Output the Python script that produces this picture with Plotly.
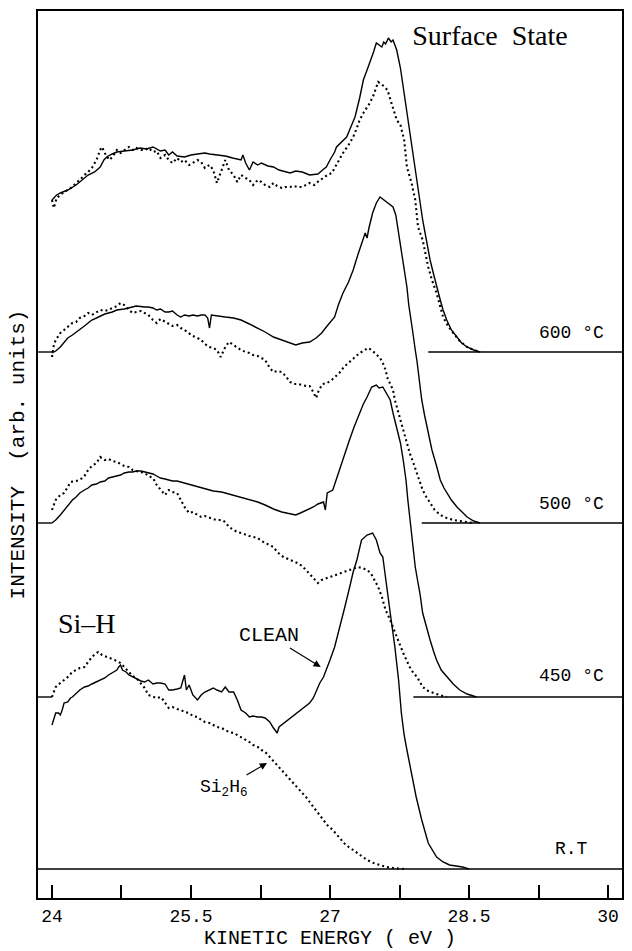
import plotly.graph_objects as go

# ---------------- data (kinetic energy in eV, intensity in arb. units) ----------------
offsets = {"R.T": 0, "450": 172, "500": 346, "600": 517}

# 600 °C
x_600_clean = [24.00,24.05,24.09,24.17,24.26,24.33,24.39,24.46,24.52,24.56,24.59,24.65,24.70,24.78,24.87,24.95,25.02,25.09,25.17,25.22,25.26,25.30,25.35,25.43,25.50,25.57,25.65,25.70,25.78,25.87,25.95,26.04,26.06,26.09,26.13,26.17,26.22,26.26,26.33,26.39,26.45,26.52,26.57,26.63,26.70,26.78,26.87,26.92,26.96,27.00,27.02,27.05,27.07,27.12,27.18,27.22,27.27,27.32,27.36,27.40,27.43,27.47,27.50,27.53,27.56,27.58,27.60,27.63,27.66,27.68,27.72,27.76,27.79,27.83,27.86,27.90,27.94,27.97,28.00,28.04,28.08,28.12,28.15,28.19,28.22,28.26,28.31,28.37,28.42,28.48,28.55,28.62]
i_600_clean = [152,157,159,162,167,172,177,180,185,192,195,198,200,201,202,204,203,205,201,202,197,200,196,195,197,198,199,198,197,196,194,192,197,189,182,190,187,189,186,185,182,180,179,181,180,177,178,182,185,192,195,200,205,210,215,224,235,254,272,282,289,300,309,307,305,310,308,314,310,312,302,284,265,244,222,197,172,152,132,112,92,77,65,52,42,32,22,15,9,5,2,0]

x_600_si2h6 = [24.00,24.02,24.05,24.09,24.13,24.17,24.22,24.26,24.30,24.35,24.39,24.43,24.48,24.52,24.54,24.58,24.62,24.65,24.70,24.74,24.78,24.83,24.87,24.91,24.96,25.00,25.04,25.09,25.13,25.17,25.22,25.26,25.30,25.35,25.39,25.43,25.48,25.52,25.57,25.61,25.65,25.70,25.74,25.78,25.82,25.87,25.91,25.96,26.00,26.04,26.09,26.13,26.17,26.22,26.26,26.30,26.35,26.39,26.43,26.48,26.52,26.57,26.61,26.65,26.70,26.78,26.83,26.89,26.93,26.97,27.02,27.05,27.09,27.14,27.20,27.25,27.29,27.32,27.36,27.40,27.43,27.47,27.50,27.52,27.55,27.58,27.62,27.66,27.70,27.72,27.76,27.80,27.83,27.88,27.92,27.95,28.00,28.06,28.10,28.15,28.22,28.28,28.33,28.40,28.48,28.55,28.62]
i_600_si2h6 = [152,144,154,157,160,162,165,169,172,177,180,184,192,202,205,197,192,195,202,199,202,205,202,204,202,202,204,200,201,194,197,192,189,194,190,192,187,189,192,190,184,187,182,169,180,192,182,177,170,177,174,172,167,172,170,167,165,169,166,164,165,165,166,165,165,169,167,172,174,177,179,184,192,199,207,215,224,232,239,244,249,257,264,270,268,266,262,250,237,232,227,212,185,169,152,125,112,85,72,59,35,25,19,11,5,2,0]

# 500 °C
x_500_clean = [24.00,24.04,24.09,24.13,24.17,24.22,24.30,24.35,24.39,24.43,24.48,24.52,24.57,24.65,24.70,24.78,24.83,24.91,25.00,25.04,25.09,25.13,25.17,25.22,25.26,25.30,25.35,25.39,25.43,25.48,25.52,25.57,25.61,25.65,25.68,25.70,25.72,25.78,25.87,25.96,26.04,26.13,26.22,26.30,26.39,26.48,26.57,26.63,26.70,26.78,26.85,26.91,26.96,27.00,27.05,27.09,27.14,27.20,27.25,27.30,27.36,27.38,27.40,27.42,27.46,27.50,27.54,27.58,27.61,27.65,27.68,27.71,27.73,27.76,27.79,27.81,27.83,27.85,27.87,27.89,27.92,27.94,27.97,27.99,28.02,28.05,28.08,28.10,28.15,28.19,28.23,28.26,28.31,28.37,28.42,28.48,28.55,28.62]
i_500_clean = [170,172,176,181,185,188,193,197,200,203,205,207,209,211,213,214,215,217,216,216,215,213,214,211,211,212,208,206,208,207,208,207,208,208,205,195,208,207,206,205,203,199,195,191,186,183,180,178,180,181,185,190,196,201,206,218,230,241,253,268,286,290,285,295,310,320,326,323,321,318,316,308,296,281,263,250,236,218,203,193,173,161,138,123,108,96,83,73,57,43,35,30,23,16,11,6,2,0]

x_500_si2h6 = [24.00,24.02,24.04,24.09,24.13,24.17,24.22,24.26,24.30,24.35,24.39,24.43,24.48,24.52,24.57,24.61,24.65,24.70,24.74,24.78,24.83,24.87,24.91,24.96,25.00,25.04,25.09,25.13,25.17,25.22,25.26,25.30,25.35,25.39,25.43,25.48,25.52,25.57,25.61,25.65,25.70,25.74,25.78,25.82,25.87,25.91,25.96,26.00,26.04,26.09,26.13,26.17,26.22,26.26,26.30,26.35,26.39,26.43,26.48,26.52,26.57,26.61,26.65,26.70,26.74,26.78,26.82,26.85,26.88,26.92,26.97,27.03,27.10,27.15,27.21,27.26,27.32,27.36,27.41,27.45,27.50,27.54,27.57,27.60,27.62,27.65,27.68,27.70,27.73,27.76,27.79,27.83,27.86,27.90,27.94,27.97,28.00,28.04,28.08,28.13,28.19,28.26,28.33,28.40,28.48,28.55]
i_500_si2h6 = [166,178,183,190,193,196,200,201,205,207,210,208,211,213,212,213,215,217,220,218,213,210,211,212,210,208,203,200,204,201,199,197,198,195,193,190,187,185,183,179,176,175,173,166,176,181,178,175,173,171,170,168,167,165,163,155,151,152,151,147,141,139,139,138,137,137,131,125,133,139,140,144,150,156,161,166,170,172,175,173,168,165,160,153,145,139,133,123,113,103,93,81,70,60,50,41,33,26,20,13,8,5,3,2,1,0]

# 450 °C
x_450_clean = [24.00,24.04,24.09,24.13,24.17,24.22,24.26,24.30,24.35,24.39,24.43,24.48,24.52,24.57,24.61,24.65,24.70,24.74,24.78,24.83,24.87,24.91,24.96,25.00,25.04,25.09,25.13,25.17,25.22,25.26,25.30,25.35,25.39,25.48,25.57,25.65,25.74,25.83,25.91,26.00,26.09,26.17,26.22,26.30,26.39,26.48,26.57,26.63,26.68,26.75,26.82,26.87,26.93,26.95,26.97,27.03,27.10,27.15,27.21,27.26,27.32,27.36,27.40,27.45,27.50,27.53,27.57,27.61,27.65,27.68,27.72,27.76,27.79,27.82,27.84,27.86,27.88,27.90,27.92,27.95,27.97,28.00,28.04,28.08,28.12,28.15,28.20,28.26,28.33,28.40,28.48,28.58]
i_450_clean = [174,177,182,187,192,197,200,204,207,209,212,213,215,216,219,220,221,222,224,225,225,226,226,225,224,223,221,219,218,217,216,216,215,213,210,208,206,205,203,200,198,196,195,192,188,185,183,182,184,187,190,193,195,187,204,207,227,242,257,270,284,293,300,310,312,309,310,304,297,284,270,254,237,217,197,180,164,147,130,114,104,84,70,57,45,37,27,20,13,7,3,0]

x_450_si2h6 = [24.00,24.04,24.09,24.13,24.17,24.20,24.26,24.30,24.35,24.39,24.43,24.48,24.52,24.57,24.61,24.65,24.70,24.74,24.78,24.83,24.87,24.91,24.96,25.00,25.04,25.09,25.13,25.17,25.22,25.26,25.30,25.35,25.39,25.43,25.48,25.52,25.57,25.61,25.65,25.70,25.74,25.78,25.83,25.87,25.91,25.96,26.00,26.04,26.09,26.13,26.17,26.22,26.26,26.30,26.35,26.39,26.43,26.48,26.52,26.57,26.61,26.65,26.70,26.74,26.78,26.82,26.87,26.91,26.97,27.03,27.10,27.16,27.21,27.26,27.30,27.35,27.40,27.44,27.48,27.52,27.56,27.60,27.64,27.68,27.72,27.76,27.79,27.83,27.86,27.90,27.94,27.97,28.00,28.06,28.11,28.18,28.26]
i_450_si2h6 = [187,197,202,204,210,215,216,217,221,227,231,234,240,237,238,236,235,233,231,230,227,226,225,224,221,219,212,207,202,207,205,204,197,190,184,185,182,180,181,179,178,177,177,175,170,167,165,164,162,161,160,159,156,154,152,150,145,141,139,137,135,134,131,127,122,119,114,117,119,121,124,126,127,129,130,129,127,124,117,110,100,87,79,69,60,51,44,36,30,24,20,15,10,6,4,2,0]

# room temperature
x_rt_clean = [24.00,24.02,24.04,24.07,24.09,24.11,24.13,24.17,24.20,24.22,24.26,24.30,24.35,24.39,24.43,24.48,24.52,24.57,24.61,24.65,24.70,24.72,24.74,24.76,24.80,24.83,24.87,24.91,24.96,25.00,25.04,25.09,25.13,25.17,25.22,25.26,25.30,25.35,25.39,25.43,25.45,25.48,25.52,25.57,25.61,25.65,25.70,25.74,25.78,25.83,25.87,25.91,25.96,26.00,26.04,26.09,26.13,26.17,26.22,26.26,26.30,26.35,26.39,26.43,26.45,26.52,26.57,26.65,26.72,26.78,26.82,26.86,26.89,26.93,26.97,27.00,27.05,27.10,27.13,27.16,27.21,27.25,27.29,27.34,27.40,27.46,27.50,27.54,27.57,27.59,27.61,27.65,27.70,27.74,27.77,27.80,27.83,27.86,27.88,27.93,27.99,28.06,28.15,28.22,28.29,28.43,28.50]
i_rt_clean = [144,151,156,156,154,159,166,167,171,172,176,179,182,183,185,187,189,191,194,196,199,202,204,199,197,194,192,190,188,187,189,185,186,186,185,179,179,180,181,194,179,184,174,169,174,177,179,181,179,177,182,177,177,169,159,156,152,153,152,152,151,147,141,136,142,147,151,156,161,166,171,179,186,192,201,209,222,239,249,262,281,297,309,329,334,336,329,316,312,299,282,256,222,189,156,134,119,104,97,72,49,26,12,7,4,2,0]

x_rt_si2h6 = [24.00,24.02,24.04,24.09,24.13,24.17,24.22,24.26,24.30,24.35,24.39,24.43,24.48,24.50,24.54,24.57,24.61,24.65,24.70,24.74,24.78,24.83,24.87,24.91,24.96,25.00,25.04,25.09,25.13,25.17,25.20,25.26,25.30,25.35,25.39,25.43,25.48,25.52,25.57,25.61,25.65,25.70,25.74,25.78,25.83,25.87,25.91,25.96,26.00,26.04,26.09,26.13,26.17,26.22,26.26,26.30,26.35,26.39,26.43,26.48,26.52,26.57,26.61,26.65,26.70,26.74,26.78,26.83,26.87,26.92,26.97,27.03,27.10,27.17,27.25,27.32,27.40,27.47,27.54,27.61,27.68,27.80]
i_rt_si2h6 = [172,177,182,186,189,192,197,199,201,202,207,212,216,217,214,213,212,210,208,206,202,197,193,191,185,181,174,172,171,172,169,161,162,160,159,157,156,153,152,149,147,146,144,142,141,139,137,136,134,132,129,127,124,122,119,117,112,108,104,99,95,90,86,81,77,72,67,61,56,51,44,39,31,24,19,14,9,6,4,2,1,0]

# baseline segments (start/end energies) for each temperature
baseline_left = [23.85, 24.00]
baseline_right_start = {"450": 27.90, "500": 27.99, "600": 28.06}
x_min, x_max = 23.849, 30.151

tick_vals = [24, 25.5, 27, 28.5, 30]
tick_text = ["24", "25.5", "27", "28.5", "30"]
minor_tick_vals = [24.75, 26.25, 27.75, 29.25]

temp_labels = [("600 °C", "600"), ("500 °C", "500"), ("450 °C", "450"), ("R.T", "R.T")]

# ---------------- figure ----------------
fig = go.Figure()

solid = dict(color="black", width=1.4)
dotted = dict(color="black", width=2.1, dash="2px,3px")

def add(x, inten, key, style):
    off = offsets[key]
    fig.add_trace(go.Scatter(x=x, y=[v + off for v in inten], mode="lines",
                             line=style, hoverinfo="skip", showlegend=False))

add(x_600_clean, i_600_clean, "600", solid)
add(x_600_si2h6, i_600_si2h6, "600", dotted)
add(x_500_clean, i_500_clean, "500", solid)
add(x_500_si2h6, i_500_si2h6, "500", dotted)
add(x_450_clean, i_450_clean, "450", solid)
add(x_450_si2h6, i_450_si2h6, "450", dotted)
add(x_rt_clean, i_rt_clean, "R.T", solid)
add(x_rt_si2h6, i_rt_si2h6, "R.T", dotted)

# baselines
bx, by = [x_min, x_max, None], [0, 0, None]
for k in ["450", "500", "600"]:
    bx += [baseline_left[0], baseline_left[1], None, baseline_right_start[k], x_max, None]
    by += [offsets[k], offsets[k], None, offsets[k], offsets[k], None]
fig.add_trace(go.Scatter(x=bx, y=by, mode="lines", line=dict(color="black", width=1.4),
                         hoverinfo="skip", showlegend=False))

mono = "Liberation Mono"
serif = "Liberation Serif"

annotations = []
label_pos = {"600": (29.98, 19), "500": (29.98, 19), "450": (29.98, 21), "R.T": (29.81, 20)}
for text, key in temp_labels:
    xx, dy = label_pos[key]
    annotations.append(dict(x=xx, y=offsets[key] + dy, text=text, showarrow=False,
                            xanchor="right", yanchor="middle",
                            font=dict(family=mono, size=18, color="black")))

annotations += [
    dict(x=24.04, y=246, text="Si\u2013H", showarrow=False, xanchor="left", yanchor="middle",
         font=dict(family=serif, size=28, color="black")),
    # labels with arrows: (x, y) is the arrow head, (ax, ay) the label centre
    dict(x=26.90, y=202, ax=26.34, ay=234, xref="x", yref="y", axref="x", ayref="y", text="CLEAN",
         showarrow=True, arrowhead=2, arrowsize=1.2, arrowwidth=1.2, arrowcolor="black", standoff=0,
         font=dict(family=mono, size=20, color="black")),
    dict(x=26.32, y=106, ax=25.86, ay=81, xref="x", yref="y", axref="x", ayref="y",
         text="Si<sub>2</sub>H<sub>6</sub>",
         showarrow=True, arrowhead=2, arrowsize=1.2, arrowwidth=1.2, arrowcolor="black", standoff=0,
         font=dict(family=mono, size=18, color="black")),
]

fig.update_layout(
    width=632, height=951,
    margin=dict(l=38, r=10, t=11, b=53),
    paper_bgcolor="white", plot_bgcolor="white",
    showlegend=False,
    title=dict(text="Surface\u00a0 State", xref="paper", yref="paper", x=0.774, y=0.973,
               xanchor="center", yanchor="middle", automargin=False,
               font=dict(family=serif, size=28, color="black")),
    annotations=annotations,
    xaxis=dict(range=[x_min, x_max], showgrid=False, zeroline=False, automargin=False,
               showline=True, mirror=True, linecolor="black", linewidth=2,
               ticks="inside", ticklen=13, tickwidth=1.5, tickcolor="black",
               tickvals=tick_vals, ticktext=tick_text,
               tickfont=dict(family=mono, size=18, color="black"),
               minor=dict(tickvals=minor_tick_vals, ticks="inside", ticklen=13,
                          tickwidth=1.5, tickcolor="black", showgrid=False),
               title=dict(text="KINETIC ENERGY ( eV )", standoff=3,
                          font=dict(family=mono, size=20, color="black"))),
    yaxis=dict(range=[-29, 858], showgrid=False, zeroline=False, automargin=False,
               showline=True, mirror=True, linecolor="black", linewidth=2,
               ticks="", showticklabels=False,
               title=dict(text="INTENSITY  (arb. units)", standoff=6,
                          font=dict(family=mono, size=21, color="black"))),
)

fig.write_html("out.html")
